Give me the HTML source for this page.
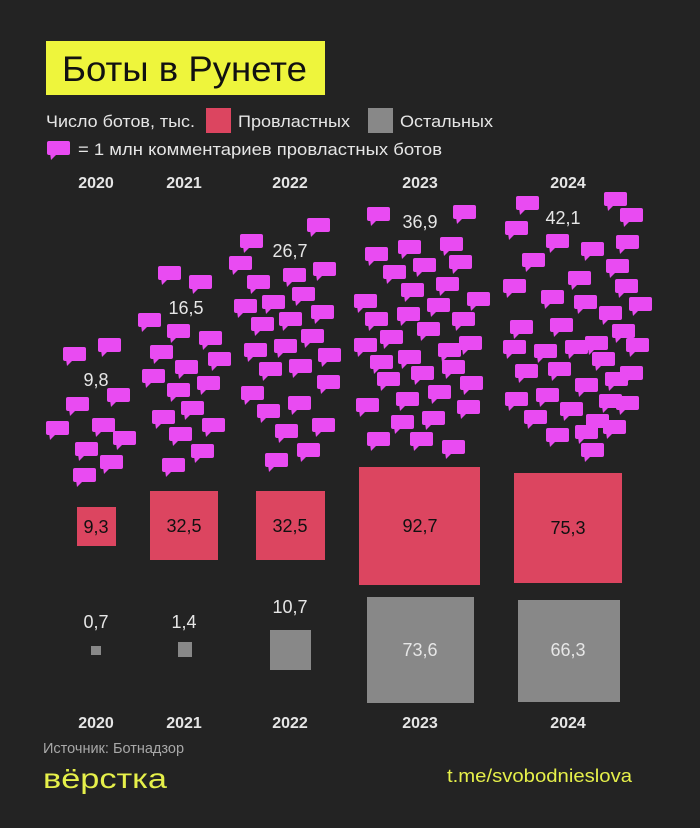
<!DOCTYPE html>
<html><head><meta charset="utf-8"><style>
html,body{margin:0;padding:0;background:#232323;}
svg{display:block}
text{font-family:"Liberation Sans","DejaVu Sans",sans-serif;}
</style></head><body>
<svg width="700" height="828" viewBox="0 0 700 828" xmlns="http://www.w3.org/2000/svg">
<defs>
<g id="b"><rect x="0" y="0" width="23" height="14" rx="2" fill="#e94bf2"/><polygon points="3,12 11,12 4,19" fill="#e94bf2"/></g>
</defs>
<rect width="700" height="828" fill="#232323"/>
<rect x="46" y="41" width="279" height="54" fill="#eef53c"/>
<text x="62" y="81" font-size="35" fill="#111" textLength="245" lengthAdjust="spacingAndGlyphs">Боты в Рунете</text>
<text x="46" y="127" font-size="17" fill="#e6e6e6" textLength="149" lengthAdjust="spacingAndGlyphs">Число ботов, тыс.</text>
<rect x="206" y="108" width="25" height="25" fill="#dc4560"/>
<text x="238" y="127" font-size="17" fill="#e6e6e6" textLength="112" lengthAdjust="spacingAndGlyphs">Провластных</text>
<rect x="368" y="108" width="25" height="25" fill="#888"/>
<text x="400" y="127" font-size="17" fill="#e6e6e6" textLength="93" lengthAdjust="spacingAndGlyphs">Остальных</text>
<use href="#b" x="47" y="141"/>
<text x="78" y="155" font-size="17" fill="#e6e6e6" textLength="364" lengthAdjust="spacingAndGlyphs">= 1 млн комментариев провластных ботов</text>
<g font-size="16" font-weight="bold" fill="#e6e6e6" text-anchor="middle">
<text x="96" y="188">2020</text><text x="184" y="188">2021</text><text x="290" y="188">2022</text><text x="420" y="188">2023</text><text x="568" y="188">2024</text>
<text x="96" y="728">2020</text><text x="184" y="728">2021</text><text x="290" y="728">2022</text><text x="420" y="728">2023</text><text x="568" y="728">2024</text>
</g>
<g font-size="18" fill="#e6e6e6" text-anchor="middle">
<text x="96" y="386">9,8</text><text x="186" y="314">16,5</text><text x="290" y="257">26,7</text><text x="420" y="228">36,9</text><text x="563" y="224">42,1</text>
</g>
<g>
<use href="#b" x="63" y="347"/><use href="#b" x="98" y="338"/><use href="#b" x="66" y="397"/><use href="#b" x="107" y="388"/><use href="#b" x="46" y="421"/><use href="#b" x="92" y="418"/><use href="#b" x="113" y="431"/><use href="#b" x="75" y="442"/><use href="#b" x="100" y="455"/><use href="#b" x="73" y="468"/>
<use href="#b" x="158" y="266"/><use href="#b" x="189" y="275"/><use href="#b" x="138" y="313"/><use href="#b" x="167" y="324"/><use href="#b" x="199" y="331"/><use href="#b" x="150" y="345"/><use href="#b" x="175" y="360"/><use href="#b" x="208" y="352"/><use href="#b" x="142" y="369"/><use href="#b" x="167" y="383"/><use href="#b" x="197" y="376"/><use href="#b" x="152" y="410"/><use href="#b" x="181" y="401"/><use href="#b" x="202" y="418"/><use href="#b" x="169" y="427"/><use href="#b" x="191" y="444"/><use href="#b" x="162" y="458"/>
<use href="#b" x="240" y="234"/><use href="#b" x="229" y="256"/><use href="#b" x="247" y="275"/><use href="#b" x="307" y="218"/><use href="#b" x="283" y="268"/><use href="#b" x="313" y="262"/><use href="#b" x="292" y="287"/><use href="#b" x="234" y="299"/><use href="#b" x="262" y="295"/><use href="#b" x="251" y="317"/><use href="#b" x="279" y="312"/><use href="#b" x="311" y="305"/><use href="#b" x="244" y="343"/><use href="#b" x="274" y="339"/><use href="#b" x="301" y="329"/><use href="#b" x="318" y="348"/><use href="#b" x="259" y="362"/><use href="#b" x="289" y="359"/><use href="#b" x="241" y="386"/><use href="#b" x="317" y="375"/><use href="#b" x="257" y="404"/><use href="#b" x="288" y="396"/><use href="#b" x="275" y="424"/><use href="#b" x="312" y="418"/><use href="#b" x="297" y="443"/><use href="#b" x="265" y="453"/>
<use href="#b" x="367" y="207"/><use href="#b" x="453" y="205"/><use href="#b" x="365" y="247"/><use href="#b" x="398" y="240"/><use href="#b" x="440" y="237"/><use href="#b" x="383" y="265"/><use href="#b" x="413" y="258"/><use href="#b" x="449" y="255"/><use href="#b" x="401" y="283"/><use href="#b" x="436" y="277"/><use href="#b" x="354" y="294"/><use href="#b" x="467" y="292"/><use href="#b" x="365" y="312"/><use href="#b" x="397" y="307"/><use href="#b" x="427" y="298"/><use href="#b" x="452" y="312"/><use href="#b" x="354" y="338"/><use href="#b" x="380" y="330"/><use href="#b" x="417" y="322"/><use href="#b" x="459" y="336"/><use href="#b" x="370" y="355"/><use href="#b" x="398" y="350"/><use href="#b" x="438" y="343"/><use href="#b" x="377" y="372"/><use href="#b" x="411" y="366"/><use href="#b" x="442" y="360"/><use href="#b" x="460" y="376"/><use href="#b" x="356" y="398"/><use href="#b" x="396" y="392"/><use href="#b" x="428" y="385"/><use href="#b" x="457" y="400"/><use href="#b" x="391" y="415"/><use href="#b" x="422" y="411"/><use href="#b" x="367" y="432"/><use href="#b" x="410" y="432"/><use href="#b" x="442" y="440"/>
<use href="#b" x="516" y="196"/><use href="#b" x="604" y="192"/><use href="#b" x="505" y="221"/><use href="#b" x="620" y="208"/><use href="#b" x="546" y="234"/><use href="#b" x="581" y="242"/><use href="#b" x="616" y="235"/><use href="#b" x="522" y="253"/><use href="#b" x="568" y="271"/><use href="#b" x="606" y="259"/><use href="#b" x="503" y="279"/><use href="#b" x="541" y="290"/><use href="#b" x="615" y="279"/><use href="#b" x="574" y="295"/><use href="#b" x="599" y="306"/><use href="#b" x="510" y="320"/><use href="#b" x="629" y="297"/><use href="#b" x="550" y="318"/><use href="#b" x="585" y="336"/><use href="#b" x="612" y="324"/><use href="#b" x="503" y="340"/><use href="#b" x="534" y="344"/><use href="#b" x="626" y="338"/><use href="#b" x="565" y="340"/><use href="#b" x="592" y="352"/><use href="#b" x="515" y="364"/><use href="#b" x="548" y="362"/><use href="#b" x="620" y="366"/><use href="#b" x="575" y="378"/><use href="#b" x="605" y="372"/><use href="#b" x="505" y="392"/><use href="#b" x="536" y="388"/><use href="#b" x="599" y="394"/><use href="#b" x="524" y="410"/><use href="#b" x="560" y="402"/><use href="#b" x="586" y="414"/><use href="#b" x="616" y="396"/><use href="#b" x="546" y="428"/><use href="#b" x="575" y="425"/><use href="#b" x="603" y="420"/><use href="#b" x="581" y="443"/>
</g>
<rect x="77" y="507" width="39" height="39" fill="#dc4560"/>
<rect x="150" y="491" width="68" height="69" fill="#dc4560"/>
<rect x="256" y="491" width="69" height="69" fill="#dc4560"/>
<rect x="359" y="467" width="121" height="118" fill="#dc4560"/>
<rect x="514" y="473" width="108" height="110" fill="#dc4560"/>
<rect x="91" y="646" width="10" height="9" fill="#888"/>
<rect x="178" y="642" width="14" height="15" fill="#888"/>
<rect x="270" y="630" width="41" height="40" fill="#888"/>
<rect x="367" y="597" width="107" height="106" fill="#888"/>
<rect x="518" y="600" width="102" height="102" fill="#888"/>
<g font-size="18" text-anchor="middle">
<text x="96" y="533" fill="#111">9,3</text><text x="184" y="532" fill="#111">32,5</text><text x="290" y="532" fill="#111">32,5</text><text x="420" y="532" fill="#111">92,7</text><text x="568" y="534" fill="#111">75,3</text>
<text x="96" y="628" fill="#e6e6e6">0,7</text><text x="184" y="628" fill="#e6e6e6">1,4</text><text x="290" y="613" fill="#e6e6e6">10,7</text><text x="420" y="656" fill="#e6e6e6">73,6</text><text x="568" y="656" fill="#e6e6e6">66,3</text>
</g>
<text x="43" y="753" font-size="14.5" fill="#a8a8a8">Источник: Ботнадзор</text>
<text x="43" y="788" font-size="28" fill="#e6f04a" textLength="124" lengthAdjust="spacingAndGlyphs">вёрстка</text>
<text x="447" y="782" font-size="18" fill="#e6f04a" textLength="185" lengthAdjust="spacingAndGlyphs">t.me/svobodnieslova</text>
</svg>
</body></html>
